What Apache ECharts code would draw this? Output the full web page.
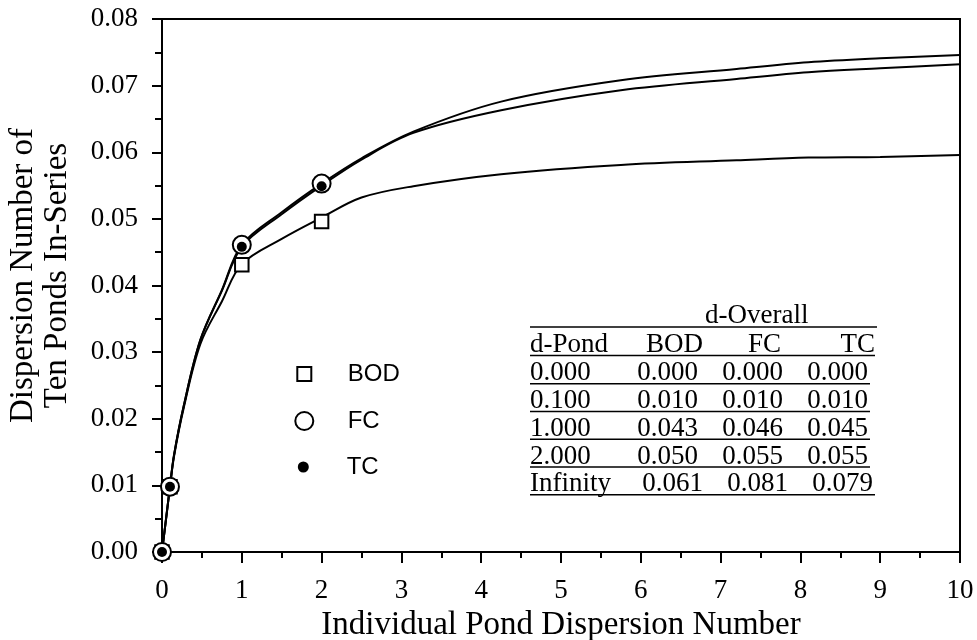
<!DOCTYPE html>
<html>
<head>
<meta charset="utf-8">
<script src="https://cdn.jsdelivr.net/npm/echarts@6/dist/echarts.min.js"></script>
<style>
html, body { margin: 0; padding: 0; background: #fff; }
#chart { width: 977px; height: 640px; }
</style>
</head>
<body>
<div id="chart"></div>
<script>
// curves
var curveX = [0, 0.1, 0.15, 0.27, 0.48, 0.75, 1, 1.5, 2, 2.5, 3.15, 4.25, 5.75, 7.2, 8.1, 9, 10];
var bodCurve = [0, 0.0098, 0.0143, 0.0215, 0.0312, 0.0376, 0.0432, 0.0470, 0.0502, 0.0532, 0.0549, 0.0567, 0.0581, 0.0588, 0.0592, 0.0593, 0.0596];
var fcCurve = [0, 0.0098, 0.0145, 0.0218, 0.0318, 0.0393, 0.0461, 0.0510, 0.0553, 0.0591, 0.0631, 0.0676, 0.0708, 0.0725, 0.0735, 0.0741, 0.0746];
var tcCurve = [0, 0.0098, 0.0145, 0.0218, 0.0318, 0.0392, 0.0458, 0.0507, 0.0550, 0.0589, 0.0629, 0.0663, 0.0693, 0.0710, 0.0720, 0.0726, 0.0732];

// plotted points
var markX = [0, 0.1, 1, 2];
var bodMark = [0, 0.0098, 0.0431, 0.0496];
var fcMark = [0, 0.0098, 0.0461, 0.0553];
var tcMark = [0, 0.0098, 0.0458, 0.0549];

// table
var tableHead = ['d-Pond', 'BOD', 'FC', 'TC'];
var tablePond = ['0.000', '0.100', '1.000', '2.000', 'Infinity'];
var tableBod = ['0.000', '0.010', '0.043', '0.050', '0.061'];
var tableFc = ['0.000', '0.010', '0.046', '0.055', '0.081'];
var tableTc = ['0.000', '0.010', '0.045', '0.055', '0.079'];

function pairs(xs, ys) {
    var out = [];
    for (var i = 0; i < xs.length; i++) out.push([xs[i], ys[i]]);
    return out;
}

var serif = '"Liberation Serif", "Times New Roman", serif';
var sans = '"Liberation Sans", Arial, sans-serif';

// table drawn as graphic text
var g = [];
function txt(s, x, y, align) {
    g.push({
        type: 'text', x: x, y: y, z: 10,
        style: { text: s, font: '27px ' + serif, fill: '#000', align: align || 'left', verticalAlign: 'middle' }
    });
}
function hline(x1, x2, y) {
    g.push({ type: 'line', z: 10, shape: { x1: x1, y1: y, x2: x2, y2: y }, style: { stroke: '#000', lineWidth: 1.5 } });
}
txt('d-Overall', 705, 315.5);
hline(530, 877, 327);
txt(tableHead[0], 530, 344.8);
txt(tableHead[1], 703, 344.8, 'right');
txt(tableHead[2], 781, 344.8, 'right');
txt(tableHead[3], 875, 344.8, 'right');
hline(530, 875, 355.5);
for (var i = 0; i < tablePond.length; i++) {
    var y = 373.2 + i * 27.75;
    var sh = i === tablePond.length - 1 ? 5 : 0;
    txt(tablePond[i], 530, y);
    txt(tableBod[i], 698 + sh, y, 'right');
    txt(tableFc[i], 783 + sh, y, 'right');
    txt(tableTc[i], 868 + sh, y, 'right');
    hline(530, 870 + sh, y + 10.5);
}

function legendFor(name, icon, size, cy, style) {
    return {
        data: [{ name: name, icon: icon, itemStyle: style }],
        orient: 'vertical',
        left: 303.3 - size / 2,
        top: cy - 12,
        padding: 0,
        itemWidth: size,
        itemHeight: size,
        selectedMode: false,
        textStyle: {
            fontFamily: sans, fontSize: 24, color: '#000', lineHeight: 24,
            padding: [0, 0, 0, 346.7 - (303.3 + size / 2) - 5]
        }
    };
}

function curve(name, values) {
    return {
        name: name, type: 'line', data: pairs(curveX, values),
        smooth: 0.35, symbol: 'none', z: 2,
        lineStyle: { color: '#000', width: 2 }
    };
}

var myChart = echarts.init(document.getElementById('chart'));

var option = {
    backgroundColor: '#fff',
    animation: false,
    grid: {
        left: 162, right: 17, top: 19, bottom: 88,
        outerBoundsMode: 'none', containLabel: false,
        show: true, borderColor: '#000', borderWidth: 2, backgroundColor: 'transparent'
    },
    legend: [
        legendFor('BOD', 'rect', 14, 374, { color: '#fff', borderColor: '#000', borderWidth: 2 }),
        legendFor('FC', 'circle', 18, 421, { color: '#fff', borderColor: '#000', borderWidth: 2 }),
        legendFor('TC', 'circle', 11, 467, { color: '#000', borderColor: '#000', borderWidth: 0 })
    ],
    xAxis: {
        type: 'value', min: 0, max: 10, interval: 1,
        name: 'Individual Pond Dispersion Number',
        nameLocation: 'middle', nameGap: 51,
        nameTextStyle: { fontFamily: serif, fontSize: 33, color: '#000' },
        axisLine: { lineStyle: { color: '#000', width: 2 } },
        axisTick: { length: 11, lineStyle: { color: '#000', width: 2 } },
        minorTick: { show: true, splitNumber: 2, length: 6, lineStyle: { color: '#000', width: 2 } },
        axisLabel: { fontFamily: serif, fontSize: 27, color: '#000', margin: 25 },
        splitLine: { show: false }
    },
    yAxis: {
        type: 'value', min: 0, max: 0.08, interval: 0.01,
        name: 'Dispersion Number of\nTen Ponds In-Series',
        nameLocation: 'middle', nameGap: 88, nameRotate: 90,
        nameTextStyle: { fontFamily: serif, fontSize: 33, color: '#000', lineHeight: 34, padding: [0, 0, 0, 20] },
        axisLine: { lineStyle: { color: '#000', width: 2 } },
        axisTick: { length: 10, lineStyle: { color: '#000', width: 2 } },
        minorTick: { show: true, splitNumber: 2, length: 7, lineStyle: { color: '#000', width: 2 } },
        axisLabel: {
            fontFamily: serif, fontSize: 27, color: '#000', margin: 24,
            formatter: function (v) { return v.toFixed(2); }
        },
        splitLine: { show: false }
    },
    series: [
        curve('BOD curve', bodCurve),
        curve('FC curve', fcCurve),
        curve('TC curve', tcCurve),
        {
            name: 'BOD', type: 'scatter', data: pairs(markX, bodMark),
            symbol: 'rect', symbolSize: 13.5, clip: false, z: 3,
            itemStyle: { color: '#fff', borderColor: '#000', borderWidth: 2, opacity: 1 }
        },
        {
            name: 'FC', type: 'scatter', data: pairs(markX, fcMark),
            symbol: 'circle', symbolSize: 18, clip: false, z: 4,
            itemStyle: { color: '#fff', borderColor: '#000', borderWidth: 2, opacity: 1 }
        },
        {
            name: 'TC', type: 'scatter', data: pairs(markX, tcMark),
            symbol: 'circle', symbolSize: 10, clip: false, z: 5,
            itemStyle: { color: '#000', opacity: 1 }
        }
    ],
    graphic: g
};

myChart.setOption(option);
</script>
</body>
</html>
